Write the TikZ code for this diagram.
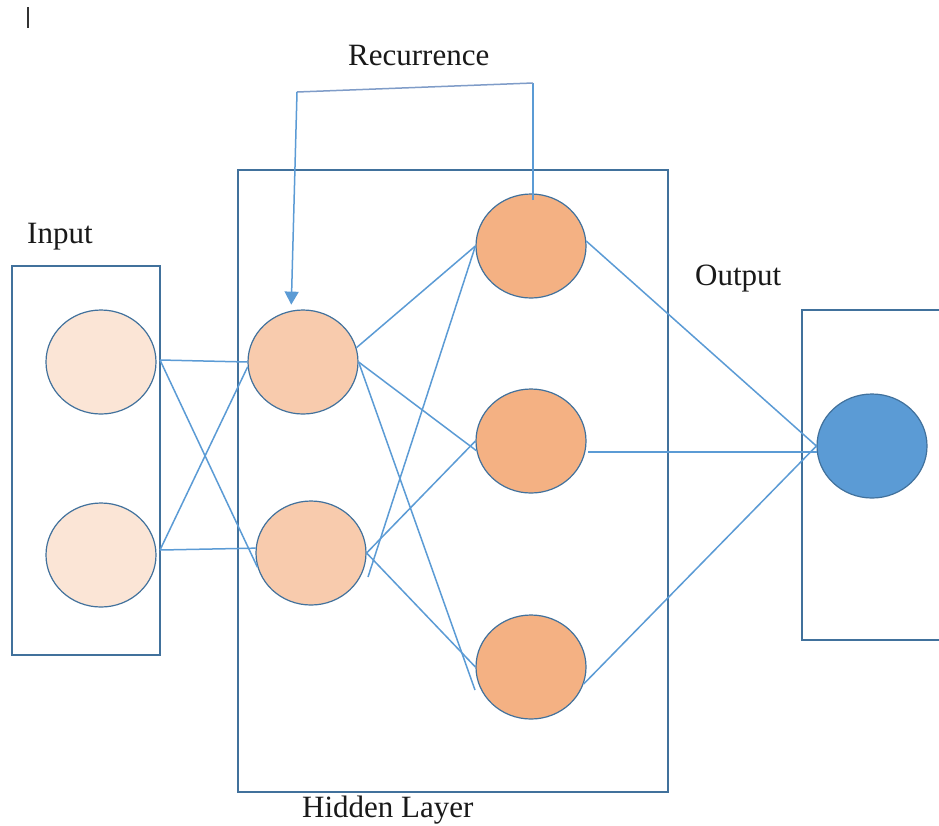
\documentclass[tikz,border=0pt]{standalone}
\usepackage{fontspec}
\setmainfont{Liberation Serif}
\usetikzlibrary{shapes.geometric,arrows.meta}

\definecolor{frameblue}{HTML}{41719C}
\definecolor{wireblue}{HTML}{5B9BD5}
\definecolor{topwire}{HTML}{7F9CC8}
\definecolor{inputfill}{HTML}{FBE5D6}
\definecolor{hidfillA}{HTML}{F8CBAD}
\definecolor{hidfillB}{HTML}{F4B183}
\definecolor{outfill}{HTML}{5B9BD5}

\tikzset{
  layerbox/.style={draw=frameblue, line width=1.7pt},
  neuron/.style={ellipse, draw=frameblue, line width=1.2pt,
    minimum width=110pt, minimum height=104pt, inner sep=0pt},
  wire/.style={draw=wireblue, line width=1.5pt},
  lbl/.style={font=\fontsize{31}{37}\selectfont, inner sep=0pt, anchor=base west, text=black!90}
}

\begin{document}
\begin{tikzpicture}[x=1pt, y=-1pt]
\useasboundingbox (0,0) rectangle (939,825);
\fill[white] (0,0) rectangle (939,825);

% text cursor mark
\draw[line width=2.2pt, black!80] (28,7) -- (28,28);

% layer frames
\draw[layerbox] (12,266) rectangle (160,655);
\draw[layerbox] (238,170) rectangle (668,792);
\draw[layerbox] (802,310) rectangle (950,640);

% labels
\node[lbl] (reclbl) at (348,65) {Recurrence};
\node[lbl] (inlbl) at (27,243) {Input};
\node[lbl] (outlbl) at (695,285) {Output};
\node[lbl] (hidlbl) at (302,817) {Hidden Layer};

% neurons
\node[neuron, fill=inputfill] (i1) at (101,362) {};
\node[neuron, fill=inputfill] (i2) at (101,555) {};
\node[neuron, fill=hidfillA] (h1) at (303,362) {};
\node[neuron, fill=hidfillA] (h2) at (311,553) {};
\node[neuron, fill=hidfillB] (g1) at (531,246) {};
\node[neuron, fill=hidfillB] (g2) at (531,441) {};
\node[neuron, fill=hidfillB] (g3) at (531,667) {};
\node[neuron, fill=outfill] (o) at (872,446) {};

% loose wire ends
\coordinate (i1out) at (160,360);
\coordinate (i2out) at (160,550);
\coordinate (g3tail) at (475,690);
\coordinate (h2tail) at (368,577);
\coordinate (g2out) at (588,452);
\coordinate (oin) at (817,452);
\coordinate (recStart) at (533,200);
\coordinate (recL) at (297,92);
\coordinate (recR) at (533,83);

% input -> first hidden column
\draw[wire] (i1out) -- (h1.west);
\draw[wire] (i1out) -- (h2.195);
\draw[wire] (i2out) -- (h1.185);
\draw[wire] (i2out) -- (h2.175);

% first -> second hidden column
\draw[wire] (h1.15) -- (g1.west);
\draw[wire] (h1.east) -- (g2.190);
\draw[wire] (h1.east) -- (g3tail);
\draw[wire] (h2tail) -- (g1.west);
\draw[wire] (h2.east) -- (g2.west);
\draw[wire] (h2.east) -- (g3.west);

% second hidden column -> output
\draw[wire] (g1.5) -- (o.west);
\draw[wire] (g2out) -- (oin);
\draw[wire] (g3.-18) -- (o.west);

% recurrence loop
\draw[wire] (recStart) -- (recR);
\draw[draw=topwire, line width=1.5pt] (recR) -- (recL);
\draw[wire, -{Triangle[width=14pt,length=13pt]}, shorten >=6pt] (recL) -- (h1.103);
\end{tikzpicture}
\end{document}
